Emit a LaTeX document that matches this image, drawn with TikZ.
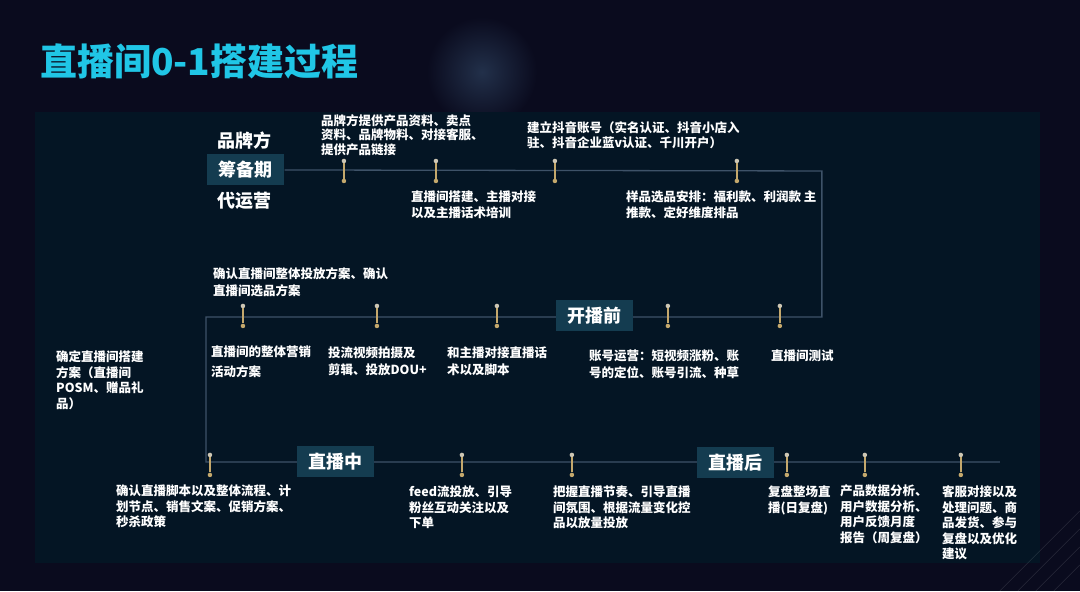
\documentclass[tikz,border=0pt]{standalone}
\usepackage{fontspec}
\usepackage{xcolor}
\usepackage{tikz}
\setmainfont{Noto Sans CJK SC}

\definecolor{bgc}{RGB}{10,11,30}
\definecolor{panelc}{RGB}{4,21,36}
\definecolor{trackc}{RGB}{62,82,104}
\definecolor{glowc}{RGB}{34,48,74}
\definecolor{boxc}{RGB}{20,60,80}
\definecolor{tickc}{RGB}{196,168,108}
\definecolor{tipc}{RGB}{205,198,180}
\definecolor{titlec}{RGB}{32,198,230}

\begin{document}
\begin{tikzpicture}[x=1pt,y=-1pt,
    every node/.style={inner sep=0pt,text=white,font=\bfseries},
    txt/.style={anchor=north west,align=left,font=\fontsize{12.5}{15.5}\selectfont\bfseries},
    stage/.style={anchor=west,font=\fontsize{18}{20}\selectfont\bfseries},
    phase/.style={fill=boxc,minimum width=77pt,minimum height=31pt,font=\fontsize{18}{20}\selectfont\bfseries},
    dot/.style={circle,minimum size=4.5pt,fill=tickc},
    bar/.style={draw=tickc,line width=2.6pt},
    track/.style={draw=trackc,line width=1.3pt}]
    %
    \fill[bgc] (0,0) rectangle (1080,591);
    \shade[inner color=glowc,outer color=bgc] (482,72) circle (55);
    \fill[panelc] (35,112) rectangle (1040,563);
    \foreach \s in {0,18,36,54}
        \draw[white,opacity=0.12] (1000+\s,591) -- (1080,511+\s);
    \useasboundingbox (0,0) rectangle (1080,591);
    %
    \node[anchor=west,text=titlec,font=\fontsize{37}{40}\selectfont\bfseries] (title) at (40,61) {直播间0-1搭建过程};
    %
    \node[stage] (brand) at (217,141) {品牌方};
    \node[phase] (prep) at (246,170) {筹备期};
    \node[stage] (agency) at (217,201) {代运营};
    %
    \coordinate (c1) at (822,171);
    \coordinate (c2) at (822,317);
    \coordinate (c3) at (206,317);
    \coordinate (c4) at (206,462);
    \coordinate (c5) at (1000,462);
    \draw[track] (prep.east) -- (c1) -- (c2) -- (c3) -- (c4) -- (c5);
    %
    \node[phase] (pre) at (595,316) {开播前};
    \node[phase] (live) at (336,462) {直播中};
    \node[phase] (post) at (736,463) {直播后};
    %
    \foreach \n/\x/\y in {t1/344/171,t2/436/171,t3/555/171,t4/737/171,
        m1/243/316,m2/377/316,m3/497/316,m4/668/316,m5/780/316,
        b1/210/465,b2/462/465,b3/572/465,b4/787/465,b5/865/465,b6/961/465} {
        \node[dot,fill=tipc] (\n a) at (\x,\y-10) {};
        \node[dot] (\n b) at (\x,\y+10) {};
        \draw[bar] (\n a) -- (\n b);
    }
    %
    \node[txt,font=\fontsize{12.5}{14.5}\selectfont\bfseries] (supply) at (321,114) {品牌方提供产品资料、卖点\\资料、品牌物料、对接客服、\\提供产品链接};
    \node[txt] (account) at (527,121) {建立抖音账号（实名认证、抖音小店入\\驻、抖音企业蓝v认证、千川开户）};
    \node[txt] (setup) at (411,191) {直播间搭建、主播对接\\以及主播话术培训};
    \node[txt] (sample) at (626,191) {样品选品安排：福利款、利润款 主\\推款、定好维度排品};
    %
    \node[txt,font=\fontsize{12.5}{17}\selectfont\bfseries] (plan) at (213,267) {确认直播间整体投放方案、确认\\直播间选品方案};
    \node[txt,font=\fontsize{12.5}{20}\selectfont\bfseries] (market) at (211,346) {直播间的整体营销\\活动方案};
    \node[txt,font=\fontsize{12.5}{17}\selectfont\bfseries] (video) at (328,347) {投流视频拍摄及\\剪辑、投放DOU+};
    \node[txt,font=\fontsize{12.5}{17}\selectfont\bfseries] (script) at (447,347) {和主播对接直播话\\术以及脚本};
    \node[txt,font=\fontsize{12.5}{17}\selectfont\bfseries] (ops) at (589,350) {账号运营：短视频涨粉、账\\号的定位、账号引流、种草};
    \node[txt] (test) at (771,350) {直播间测试};
    \node[txt] (scheme) at (56,351) {确定直播间搭建\\方案（直播间\\POSM、赠品礼\\品）};
    %
    \node[txt] (flow) at (116,485) {确认直播脚本以及整体流程、计\\划节点、销售文案、促销方案、\\秒杀政策};
    \node[txt] (feed) at (409,486) {feed流投放、引导\\粉丝互动关注以及\\下单};
    \node[txt] (rhythm) at (553,486) {把握直播节奏、引导直播\\间氛围、根据流量变化控\\品以放量投放};
    \node[txt] (daily) at (768,486) {复盘整场直\\播(日复盘)};
    \node[txt] (weekly) at (840,485) {产品数据分析、\\用户数据分析、\\用户反馈月度\\报告（周复盘）};
    \node[txt] (service) at (942,486) {客服对接以及\\处理问题、商\\品发货、参与\\复盘以及优化\\建议};
    %
\end{tikzpicture}
\end{document}
